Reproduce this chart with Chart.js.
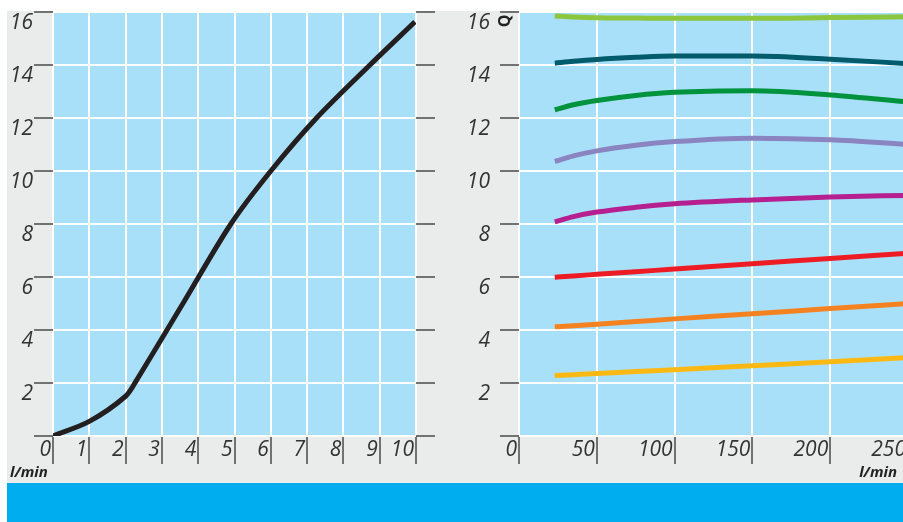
<!DOCTYPE html>
<html lang="de">
<head>
<meta charset="UTF-8">
<title>Kennlinien</title>
<script src="https://cdn.jsdelivr.net/npm/chart.js"></script>
<style>
  html, body { margin: 0; padding: 0; background: #fff; overflow: hidden; width: 903px; height: 522px; }
  #grau { position: absolute; left: 7px; top: 11px; width: 896px; height: 472px; background: #eaebeb; }
  #balken { position: absolute; left: 7px; top: 483px; width: 896px; height: 39px; background: #00adee; }
  #links { position: absolute; left: 0; top: 0; }
  #rechts { position: absolute; left: 450px; top: 0; }
</style>
</head>
<body>
<div id="grau"></div>
<div id="balken"></div>
<canvas id="links" width="450" height="483"></canvas>
<canvas id="rechts" width="470" height="483"></canvas>

<script>
// linkes Diagramm (x in l/min)
const flussX = [0, 1, 2, 2.3, 3.6, 4.9, 6.0, 7.26, 8.73, 9.97];
const flussY = [0, 0.55, 1.5, 2.1, 5.05, 8.0, 10.0, 12.0, 14.0, 15.63];

// rechtes Diagramm, Kurvenschar (x in l/min)
const kurvenX = [23, 35, 50, 75, 100, 150, 200, 250];
const hellgruen = [15.85, 15.81, 15.78, 15.77, 15.76, 15.76, 15.79, 15.82];
const petrol    = [14.07, 14.14, 14.21, 14.29, 14.34, 14.34, 14.22, 14.05];
const gruen     = [12.31, 12.5, 12.66, 12.85, 12.97, 13.03, 12.87, 12.6];
const lila      = [10.36, 10.57, 10.76, 10.97, 11.11, 11.24, 11.18, 11.0];
const magenta   = [8.08, 8.28, 8.45, 8.63, 8.76, 8.91, 9.02, 9.08];
const rot       = [5.99, 6.04, 6.1, 6.2, 6.3, 6.5, 6.7, 6.9];
const orange    = [4.12, 4.16, 4.22, 4.32, 4.42, 4.61, 4.81, 5.0];
const gelb      = [2.28, 2.31, 2.36, 2.43, 2.5, 2.65, 2.8, 2.96];

const yTicks = [0, 2, 4, 6, 8, 10, 12, 14, 16];
const xTicksLinks = [0, 1, 2, 3, 4, 5, 6, 7, 8, 9, 10];
const xTicksRechts = [0, 50, 100, 150, 200, 250];

const schrift = { family: "'Open Sans', 'Noto Sans', sans-serif", size: 21, style: 'italic' };
const textFarbe = '#333';
const strichFarbe = '#4a4a4a';

function punkte(xs, ys) {
    return xs.map((x, i) => ({ x: x, y: ys[i] }));
}

// hellblaue Fläche hinter dem Raster + Beschriftungen
const flaeche = {
    id: 'flaeche',
    beforeDraw(chart) {
        const a = chart.chartArea;
        const ctx = chart.ctx;
        ctx.save();
        ctx.fillStyle = '#a9e0f9';
        ctx.fillRect(a.left, a.top, a.right - a.left, a.bottom - a.top);
        ctx.restore();
    },
    afterDraw(chart, args, opts) {
        const ctx = chart.ctx;
        ctx.save();
        ctx.fillStyle = '#222';
        ctx.font = "italic bold 15px 'Open Sans', 'Noto Sans', sans-serif";
        ctx.textBaseline = 'middle';
        ctx.textAlign = opts.align;
        ctx.fillText('l/min', opts.x, opts.y);
        if (opts.q) {
            ctx.translate(opts.q[0], opts.q[1]);
            ctx.rotate(-Math.PI / 2);
            ctx.textAlign = 'center';
            ctx.font = "bold 16px 'Open Sans', 'Noto Sans', sans-serif";
            ctx.fillText('Q', 0, 0);
        }
        ctx.restore();
    }
};

function yAchse(breite, abstand, position, zeigen) {
    return {
        type: 'linear', position: position, min: 0, max: 16,
        afterBuildTicks: s => { s.ticks = yTicks.map(v => ({ value: v })); },
        afterFit: s => { s.width = breite; s.paddingTop = 0; s.paddingBottom = 0; },
        border: { display: false },
        grid: { color: '#fff', lineWidth: 2, tickLength: 19, tickColor: strichFarbe, tickWidth: 1.5, drawOnChartArea: zeigen },
        ticks: {
            display: zeigen, padding: abstand, labelOffset: 11, color: textFarbe, font: schrift,
            callback: v => v === 0 ? '' : v
        }
    };
}

function xAchse(max, werte) {
    return {
        type: 'linear', min: 0, max: max,
        afterBuildTicks: s => { s.ticks = werte.map(v => ({ value: v })); },
        afterFit: s => { s.height = 47; s.paddingLeft = 0; s.paddingRight = 0; },
        border: { display: false },
        grid: { color: '#fff', lineWidth: 2, tickLength: 28, tickColor: strichFarbe, tickWidth: 1.5 },
        ticks: {
            align: 'end', padding: -27, labelOffset: -2, autoSkip: false, maxRotation: 0,
            color: textFarbe, font: schrift
        }
    };
}

new Chart(document.getElementById('links'), {
    type: 'line',
    data: {
        datasets: [{
            data: punkte(flussX, flussY),
            borderColor: '#231f20', borderWidth: 5,
            pointRadius: 0, tension: 0.3
        }]
    },
    options: {
        responsive: false, animation: false,
        layout: { padding: { top: 12, left: 0, right: 0, bottom: 0 } },
        plugins: {
            legend: { display: false }, tooltip: { enabled: false },
            flaeche: { x: 10, y: 473, align: 'left' }
        },
        scales: {
            x: xAchse(10, xTicksLinks),
            y: yAchse(53, 1, 'left', true),
            y2: yAchse(34, 1, 'right', false)
        }
    },
    plugins: [flaeche]
});

const farben = ['#8cc63f', '#005b6b', '#00933e', '#8a84c1', '#b51f8f', '#ed1c24', '#f58220', '#fdb913'];
const reihen = [hellgruen, petrol, gruen, lila, magenta, rot, orange, gelb];

new Chart(document.getElementById('rechts'), {
    type: 'line',
    data: {
        datasets: reihen.map((r, i) => ({
            data: punkte(kurvenX, r),
            borderColor: farben[i], borderWidth: 5,
            pointRadius: 0, cubicInterpolationMode: 'monotone'
        }))
    },
    options: {
        responsive: false, animation: false,
        layout: { padding: { top: 12, left: 0, right: 12, bottom: 0 } },
        plugins: {
            legend: { display: false }, tooltip: { enabled: false },
            flaeche: { x: 447, y: 473, align: 'right', q: [55, 21] }
        },
        scales: {
            x: xAchse(250, xTicksRechts),
            y: yAchse(69, 10, 'left', true)
        }
    },
    plugins: [flaeche]
});
</script>
</body>
</html>
